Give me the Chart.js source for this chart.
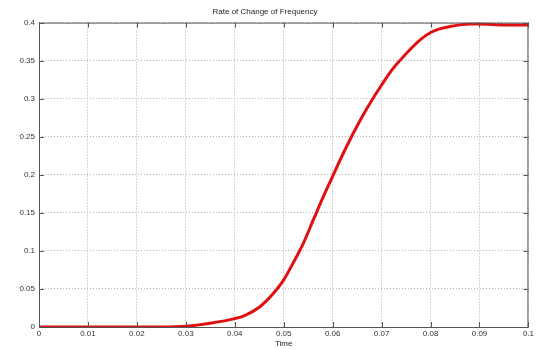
<!DOCTYPE html>
<html>
<head>
<meta charset="utf-8">
<script src="https://cdn.jsdelivr.net/npm/chart.js@4/dist/chart.umd.min.js"></script>
<style>
  html, body { margin: 0; padding: 0; background: #fff; }
  #wrap { width: 536px; height: 349px; }
</style>
</head>
<body>
<div id="wrap"><canvas id="rocof"></canvas></div>
<script>
// time (s) and rate of change of frequency
const timeValues = [0, 0.01, 0.02, 0.025, 0.03, 0.035, 0.04, 0.042, 0.045, 0.048, 0.05, 0.052, 0.054, 0.056, 0.058, 0.06, 0.062, 0.064, 0.066, 0.068, 0.07, 0.072, 0.074, 0.076, 0.078, 0.08, 0.082, 0.084, 0.086, 0.088, 0.09, 0.095, 0.1];
const rocofValues = [0, 0, 0, 0, 0.001, 0.005, 0.011, 0.015, 0.026, 0.045, 0.062, 0.085, 0.11, 0.14, 0.17, 0.198, 0.226, 0.252, 0.276, 0.298, 0.318, 0.337, 0.352, 0.366, 0.378, 0.387, 0.392, 0.395, 0.397, 0.398, 0.398, 0.397, 0.397];
const xTicks = [0, 0.01, 0.02, 0.03, 0.04, 0.05, 0.06, 0.07, 0.08, 0.09, 0.1];
const yTicks = [0, 0.05, 0.1, 0.15, 0.2, 0.25, 0.3, 0.35, 0.4];

const FONT = '"Liberation Sans Narrow", "Liberation Sans", Arial, sans-serif';
const fmt = v => String(Number(v.toFixed(3)));

// box around the plot + inward tick marks, matlab style
const boxPlugin = {
    id: 'box',
    afterDraw(chart) {
        const { ctx, chartArea: a, scales } = chart;
        ctx.save();
        ctx.strokeStyle = '#555';
        ctx.lineWidth = 1;
        ctx.strokeRect(a.left + 0.5, a.top + 0.5, a.right - a.left - 1, a.bottom - a.top);
        ctx.beginPath();
        xTicks.forEach(t => {
            const px = Math.round(scales.x.getPixelForValue(t)) + 0.5;
            ctx.moveTo(px, a.bottom); ctx.lineTo(px, a.bottom - 5);
            ctx.moveTo(px, a.top); ctx.lineTo(px, a.top + 5);
        });
        yTicks.forEach(t => {
            const py = Math.round(scales.y.getPixelForValue(t)) + 0.5;
            ctx.moveTo(a.left, py); ctx.lineTo(a.left + 5, py);
            ctx.moveTo(a.right, py); ctx.lineTo(a.right - 5, py);
        });
        ctx.stroke();
        ctx.restore();
    }
};

const ctx = document.getElementById('rocof').getContext('2d');
new Chart(ctx, {
    type: 'line',
    data: {
        datasets: [{
            data: timeValues.map((t, i) => ({ x: t, y: rocofValues[i] })),
            borderColor: '#e01010',
            borderWidth: 3,
            pointRadius: 0,
            cubicInterpolationMode: 'monotone',
            fill: false
        }]
    },
    options: {
        responsive: true,
        maintainAspectRatio: false,
        animation: false,
        layout: { padding: { left: 0, right: 6, top: 0, bottom: 0 } },
        plugins: {
            legend: { display: false },
            tooltip: { enabled: false },
            title: {
                display: true,
                text: 'Rate of Change of Frequency',
                color: '#222',
                font: { family: FONT, size: 8, weight: 'normal' },
                padding: { top: 7, bottom: 6 }
            }
        },
        scales: {
            x: {
                type: 'linear',
                min: 0,
                max: 0.1,
                afterBuildTicks: s => { s.ticks = xTicks.map(v => ({ value: v })); },
                afterFit: s => { s.height = 22; },
                ticks: {
                    color: '#333',
                    font: { family: FONT, size: 8 },
                    padding: 2,
                    maxRotation: 0,
                    callback: v => fmt(v)
                },
                grid: {
                    color: '#b0b0b0',
                    drawTicks: false,
                    tickBorderDash: [1, 2]
                },
                border: { display: false, dash: [1, 2] },
                title: {
                    display: true,
                    text: 'Time',
                    color: '#222',
                    font: { family: FONT, size: 8 },
                    padding: 0
                }
            },
            y: {
                min: 0,
                max: 0.4,
                afterBuildTicks: s => { s.ticks = yTicks.map(v => ({ value: v })); },
                afterFit: s => { s.width = 39; },
                ticks: {
                    color: '#333',
                    font: { family: FONT, size: 8 },
                    padding: 4,
                    callback: v => fmt(v)
                },
                grid: {
                    color: '#b0b0b0',
                    drawTicks: false
                },
                border: { display: false, dash: [1, 2] }
            }
        }
    },
    plugins: [boxPlugin]
});
</script>
</body>
</html>
